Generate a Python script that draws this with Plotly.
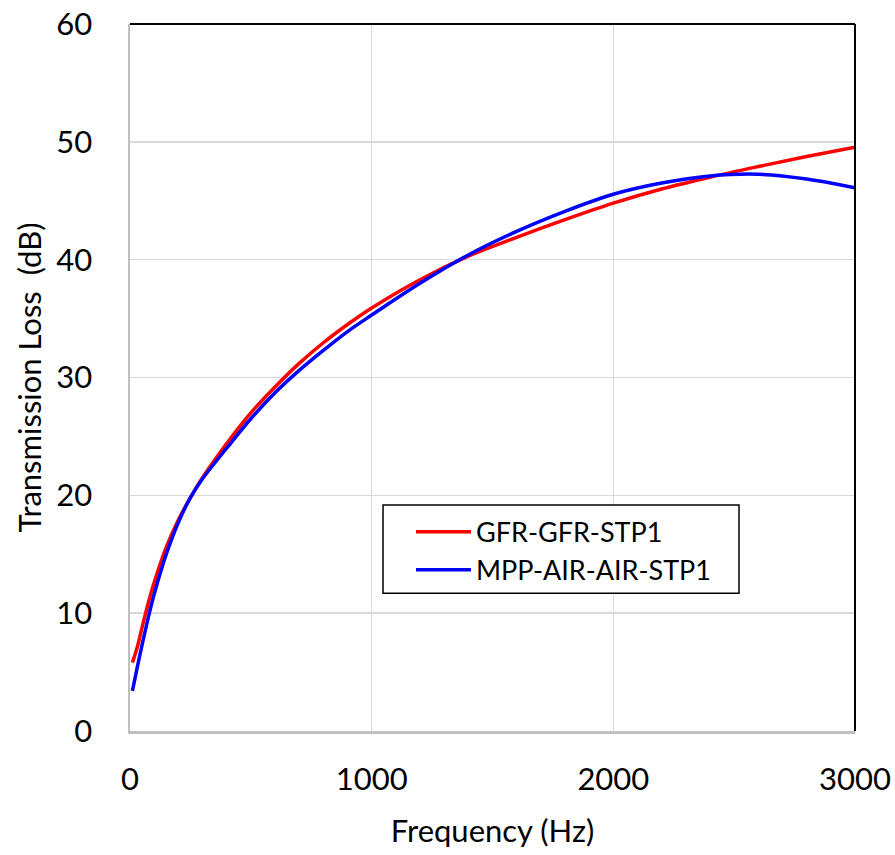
import plotly.graph_objects as go

freq = [10, 30, 50, 80, 100, 150, 200, 250, 300, 400, 500, 600, 700, 800, 900,
        1000, 1200, 1400, 1600, 1800, 2000, 2200, 2400, 2600, 2800, 3000]
tl_gfr = [5.8, 7.1, 8.8, 11.2, 12.6, 15.6, 17.9, 19.8, 21.5, 24.4, 27.0, 29.2, 31.2, 32.95, 34.5,
          35.9, 38.3, 40.3, 41.9, 43.4, 44.8, 46.0, 47.0, 47.9, 48.75, 49.55]
tl_mpp = [3.4, 5.4, 7.3, 10.0, 11.6, 15.0, 17.7, 19.8, 21.4, 24.0, 26.5, 28.7, 30.6, 32.3, 33.9,
          35.3, 38.0, 40.4, 42.4, 44.1, 45.55, 46.5, 47.1, 47.25, 46.85, 46.1]
names = ["GFR-GFR-STP1", "MPP-AIR-AIR-STP1"]
x_ticks = [0, 1000, 2000, 3000]
y_ticks = [0, 10, 20, 30, 40, 50, 60]

FONT = "Lato, Open Sans, sans-serif"

fig = go.Figure()
fig.add_trace(go.Scatter(x=freq, y=tl_gfr, mode="lines", name=names[0],
                         line=dict(color="#ff0000", width=3.5, shape="spline", smoothing=1.0)))
fig.add_trace(go.Scatter(x=freq, y=tl_mpp, mode="lines", name=names[1],
                         line=dict(color="#0000ff", width=3.5, shape="spline", smoothing=1.0)))

fig.update_layout(
    width=895, height=855,
    margin=dict(l=130, r=40, t=24, b=124, autoexpand=False),
    plot_bgcolor="white", paper_bgcolor="white",
    font=dict(family=FONT, color="black"),
    legend=dict(x=0.3876, y=0.316, xanchor="left", yanchor="top",
                borderwidth=0, bgcolor="rgba(0,0,0,0)",
                font=dict(size=27, family=FONT), tracegroupgap=4,
                itemwidth=55),
    xaxis=dict(range=[0, 3000], tickvals=x_ticks, showgrid=True,
               gridcolor="#d9d9d9", gridwidth=1.5, zeroline=False,
               showline=True, linecolor="#bfbfbf", linewidth=2.5,
               ticks="", tickfont=dict(size=31, family=FONT),
               ticklabelstandoff=19, automargin=False, ticklabeloverflow="allow",
               title=dict(text="Frequency (Hz)", font=dict(size=31, family=FONT), standoff=25)),
    yaxis=dict(range=[0, 60], tickvals=y_ticks, showgrid=True,
               gridcolor="#d9d9d9", gridwidth=1.5, zeroline=False,
               showline=True, linecolor="#bfbfbf", linewidth=2.5,
               ticks="", tickfont=dict(size=31, family=FONT),
               ticklabelstandoff=29, automargin=False, ticklabeloverflow="allow",
               title=dict(text="Transmission Loss\u00a0 (dB)", font=dict(size=31, family=FONT), standoff=6)),
    shapes=[
        dict(type="line", xref="paper", yref="paper", x0=0, x1=1, y0=1, y1=1,
             line=dict(color="black", width=2)),
        dict(type="line", xref="paper", yref="paper", x0=1, x1=1, y0=0, y1=1,
             line=dict(color="black", width=2)),
        dict(type="rect", xref="paper", yref="paper", x0=0.349, x1=0.840, y0=0.195, y1=0.3197,
             line=dict(color="black", width=1.5), fillcolor="white", layer="above"),
    ],
)

# remove the default 8px page margin so the figure fills the window exactly
fig.write_html("out.html",
               config={"displayModeBar": False, "staticPlot": True},
               post_script="document.body.style.margin='0px';document.body.style.overflow='hidden';")
